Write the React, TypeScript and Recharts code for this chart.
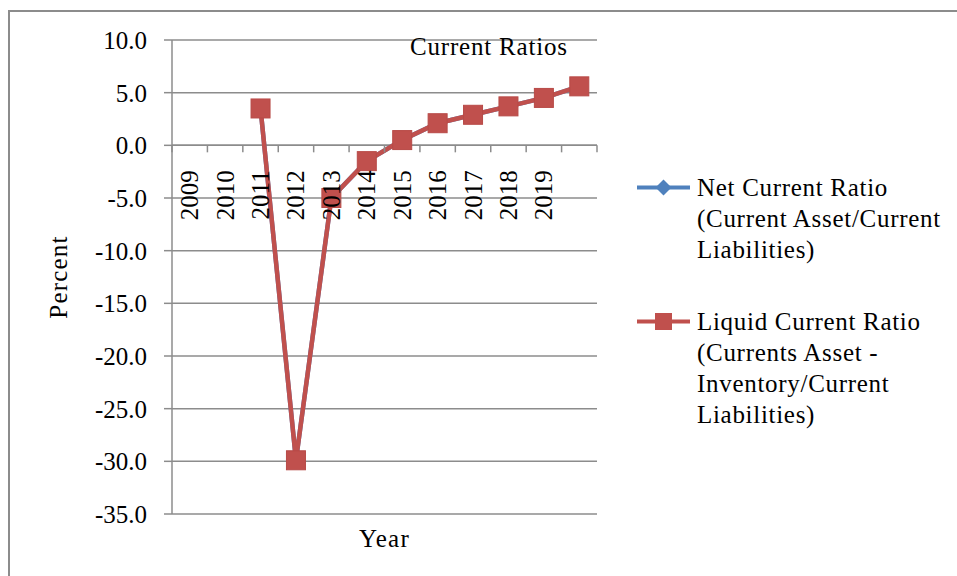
import React from 'react';
import { LineChart, Line, XAxis, YAxis, CartesianGrid, ReferenceLine, Legend } from 'recharts';

// Category slots along the x axis (the last slot carries no year label)
const years = ['2009', '2010', '2011', '2012', '2013', '2014', '2015', '2016', '2017', '2018', '2019', ''];
// Net current ratio: current assets / current liabilities
const netCurrentRatio: (number | null)[] = [null, null, 3.5, -29.9, -5.0, -1.5, 0.5, 2.1, 2.9, 3.7, 4.5, 5.6];
// Liquid current ratio: (current assets - inventory) / current liabilities
const liquidCurrentRatio: (number | null)[] = [null, null, 3.5, -29.9, -5.0, -1.5, 0.5, 2.1, 2.9, 3.7, 4.5, 5.6];
const yTicks = [-35, -30, -25, -20, -15, -10, -5, 0, 5, 10];

const seriesNames = {
  net: 'Net Current Ratio (Current Asset/Current Liabilities)',
  liquid: 'Liquid Current Ratio (Currents Asset - Inventory/Current Liabilities)',
};
const legendOrder = ['net', 'liquid'];
const legendLines: Record<string, string[]> = {
  net: ['Net Current Ratio', '(Current Asset/Current', 'Liabilities)'],
  liquid: ['Liquid Current Ratio', '(Currents Asset -', 'Inventory/Current', 'Liabilities)'],
};

const data = years.map((year, i) => ({
  pos: i,
  year,
  net: netCurrentRatio[i],
  liquid: liquidCurrentRatio[i],
}));

const W = 957;
const H = 576;
const MARGIN = { top: 40, right: 360, bottom: 22, left: 47 };
const Y_AXIS_W = 125;
const X_AXIS_H = 40;
const PLOT_W = W - MARGIN.left - Y_AXIS_W - MARGIN.right;
const PLOT_H = H - MARGIN.top - MARGIN.bottom - X_AXIS_H;
const Y_MIN = -35;
const Y_MAX = 10;
// the category axis crosses the value axis at zero
const Y_ZERO = MARGIN.top + (PLOT_H * (Y_MAX - 0)) / (Y_MAX - Y_MIN);
const STEP = PLOT_W / years.length;

const FONT = "'Liberation Serif', 'Times New Roman', serif";
const GREY = '#8c8c8c';
const BLUE = '#4F81BD';
const RED = '#C0504D';

const CategoryTick = (props: any) => {
  const { x, payload } = props;
  const idx = Number(payload.value);
  const label = years[idx];
  const left = x - STEP / 2;
  const right = x + STEP / 2;
  return (
    <g>
      <line x1={left} x2={left} y1={Y_ZERO} y2={Y_ZERO + 7} stroke={GREY} strokeWidth={1.5} />
      {idx === years.length - 1 && (
        <line x1={right} x2={right} y1={Y_ZERO} y2={Y_ZERO + 7} stroke={GREY} strokeWidth={1.5} />
      )}
      {label ? (
        <text
          transform={`translate(${x},${Y_ZERO + 25}) rotate(-90)`}
          textAnchor="end"
          dominantBaseline="central"
          fontFamily={FONT}
          fontSize={25}
          fill="#000"
        >
          {label}
        </text>
      ) : null}
    </g>
  );
};

const SquareDot = (p: any) => {
  if (p.cx == null || p.cy == null || p.value == null) return <g key={`sq-${p.index}`} />;
  const s = 19;
  return <rect key={`sq-${p.index}`} x={p.cx - s / 2} y={p.cy - s / 2} width={s} height={s} fill={RED} stroke="#b84a47" strokeWidth={1} />;
};

const DiamondDot = (p: any) => {
  if (p.cx == null || p.cy == null || p.value == null) return <g key={`dm-${p.index}`} />;
  const r = 9;
  return (
    <path
      key={`dm-${p.index}`}
      d={`M${p.cx},${p.cy - r}L${p.cx + r},${p.cy}L${p.cx},${p.cy + r}L${p.cx - r},${p.cy}Z`}
      fill={BLUE}
    />
  );
};

const LegendBox = (props: any) => {
  const items = [...(props.payload || [])].sort(
    (a: any, b: any) => legendOrder.indexOf(a.dataKey) - legendOrder.indexOf(b.dataKey)
  );
  return (
    <div style={{ fontFamily: FONT, fontSize: 25, color: '#000', letterSpacing: '0.7px' }}>
      {items.map((item: any) => {
        const key = item.dataKey as string;
        const lines = legendLines[key] || [String(item.value)];
        return (
          <div key={key} style={{ position: 'relative', marginBottom: 41, paddingLeft: 60, lineHeight: '31px' }}>
            <svg width={56} height={31} style={{ position: 'absolute', left: 0, top: 0 }}>
              <line x1={0} x2={53} y1={15.5} y2={15.5} stroke={item.color} strokeWidth={4} />
              {key === 'net' ? (
                <path d="M26.5,7.5L34.5,15.5L26.5,23.5L18.5,15.5Z" fill={item.color} />
              ) : (
                <rect x={18} y={7} width={17} height={17} fill={item.color} />
              )}
            </svg>
            {lines.map((t, i) => (
              <div key={i} style={{ whiteSpace: 'nowrap' }}>{t}</div>
            ))}
          </div>
        );
      })}
    </div>
  );
};

export default function App() {
  return (
    <div style={{ position: 'absolute', left: 0, top: 0, width: W, height: H, overflow: 'hidden', background: '#fff' }}>
      <div
        style={{
          position: 'absolute',
          left: 8,
          top: 10,
          width: 1000,
          height: 700,
          borderLeft: `2px solid ${GREY}`,
          borderTop: `2px solid ${GREY}`,
        }}
      />
      <LineChart width={W} height={H} data={data} margin={MARGIN}>
        <CartesianGrid vertical={false} stroke={GREY} strokeWidth={1.5} />
        <XAxis
          dataKey="pos"
          type="category"
          height={X_AXIS_H}
          axisLine={false}
          tickLine={false}
          interval={0}
          padding={{ left: STEP / 2, right: STEP / 2 }}
          tick={<CategoryTick />}
          label={(p: any) => {
            const vb = p.viewBox;
            return (
              <text
                x={vb.x + vb.width / 2}
                y={vb.y + 24}
                textAnchor="middle"
                dominantBaseline="central"
                fontFamily={FONT}
                fontSize={25}
                letterSpacing={1.2}
                fill="#000"
              >
                Year
              </text>
            );
          }}
        />
        <YAxis
          width={Y_AXIS_W}
          domain={[Y_MIN, Y_MAX]}
          ticks={yTicks}
          interval={0}
          allowDataOverflow
          tickFormatter={(v: number) => v.toFixed(1)}
          tickSize={8}
          tickMargin={17}
          stroke={GREY}
          strokeWidth={1.5}
          tick={{ fontFamily: FONT, fontSize: 25, fill: '#000' }}
          label={(p: any) => {
            const vb = p.viewBox;
            const cx = vb.x + 11;
            const cy = vb.y + vb.height / 2;
            return (
              <text
                transform={`translate(${cx},${cy}) rotate(-90)`}
                textAnchor="middle"
                dominantBaseline="central"
                fontFamily={FONT}
                fontSize={25}
                letterSpacing={1.2}
                fill="#000"
              >
                Percent
              </text>
            );
          }}
        />
        <ReferenceLine y={0} stroke={GREY} strokeWidth={1.5} />
        <Legend
          layout="horizontal"
          verticalAlign="middle"
          align="center"
          content={<LegendBox />}
          wrapperStyle={{ left: 637, top: 172, width: 320, height: 300 }}
        />
        <Line
          type="linear"
          dataKey="net"
          name={seriesNames.net}
          stroke={BLUE}
          strokeWidth={4.5}
          dot={DiamondDot}
          activeDot={false}
          isAnimationActive={false}
        />
        <Line
          type="linear"
          dataKey="liquid"
          name={seriesNames.liquid}
          stroke={RED}
          strokeWidth={4.5}
          dot={SquareDot}
          activeDot={false}
          isAnimationActive={false}
        />
      </LineChart>
      <div
        style={{
          position: 'absolute',
          left: 410,
          top: 32,
          fontFamily: FONT,
          fontSize: 25,
          letterSpacing: '0.8px',
          color: '#000',
          whiteSpace: 'nowrap',
          lineHeight: '30px',
        }}
      >
        Current Ratios
      </div>
    </div>
  );
}
